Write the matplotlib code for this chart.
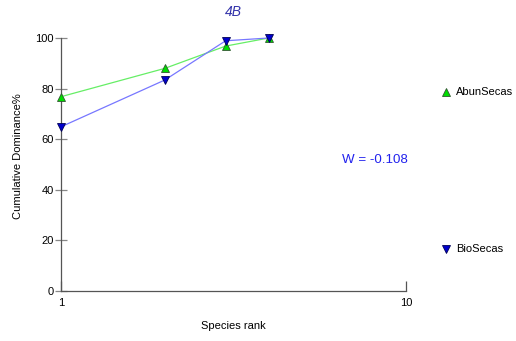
import matplotlib
matplotlib.use("Agg")
import matplotlib.pyplot as plt
from matplotlib.lines import Line2D

plt.rcParams['font.family'] = ['Liberation Sans', 'DejaVu Sans']

ranks = [1, 2, 3, 4]
abun_secas = [76.8, 88.0, 96.8, 100.0]
bio_secas = [64.9, 83.4, 98.9, 100.0]
series_names = ["AbunSecas", "BioSecas"]
y_ticks = [0, 20, 40, 60, 80, 100]
x_ticks = [1, 10]
w_text = "W = -0.108"
title = "4B"

W, H = 516, 341
fig = plt.figure(figsize=(W/100, H/100), dpi=100)
ax = fig.add_axes([61/W, 50/H, 345/W, 253/H])

MS = 6.2
ax.plot(ranks, abun_secas, color='#66ee66', lw=0.9, zorder=2, clip_on=False)
ax.plot(ranks, bio_secas, color='#7777ff', lw=0.9, zorder=2, clip_on=False)
ax.plot(ranks, abun_secas, ls='none', marker='^', ms=MS, mfc='#00dd00',
        mec='#335533', mew=0.6, zorder=3, clip_on=False)
ax.plot(ranks, bio_secas, ls='none', marker='v', ms=MS, mfc='#0000cc',
        mec='#000055', mew=0.6, zorder=4, clip_on=False)

ax.set_xscale('log')
ax.set_xlim(1, 10)
ax.set_ylim(0, 100)
ax.set_xticks(x_ticks)
ax.set_xticklabels([str(t) for t in x_ticks])
ax.xaxis.set_minor_locator(matplotlib.ticker.NullLocator())
ax.set_yticks(y_ticks)
ax.set_yticklabels([str(t) for t in y_ticks])

for s in ['top', 'right']:
    ax.spines[s].set_visible(False)
for s in ['left', 'bottom']:
    ax.spines[s].set_color('#555555')
    ax.spines[s].set_linewidth(0.9)

ax.tick_params(axis='y', direction='inout', length=8, width=0.9, color='#888888',
               labelsize=8, pad=1)
ax.tick_params(axis='x', direction='in', length=7, width=0.9, color='#555555',
               labelsize=8, pad=5)

fig.text(233/W, 1-326/H, "Species rank", fontsize=8, ha='center', va='center')
fig.text(18/W, 1-156/H, "Cumulative Dominance%", fontsize=8, ha='center',
         va='center', rotation=90)
fig.text(233/W, 1-12/H, title, fontsize=10, style='italic', color='#3333aa',
         ha='center', va='center')

fig.text(375/W, 1-160/H, w_text, color='#2222ee', fontsize=9.6,
         ha='center', va='center')

fig.lines.append(Line2D([446/W], [1-92/H], transform=fig.transFigure,
                 marker='^', ms=MS, mfc='#00dd00', mec='#335533', mew=0.6, ls='none'))
fig.lines.append(Line2D([446/W], [1-249/H], transform=fig.transFigure,
                 marker='v', ms=MS, mfc='#0000cc', mec='#000055', mew=0.6, ls='none'))
fig.text(456/W, 1-92/H, series_names[0], fontsize=8, va='center', ha='left')
fig.text(456/W, 1-249/H, series_names[1], fontsize=8, va='center', ha='left')

fig.savefig("out.png", dpi=100)
